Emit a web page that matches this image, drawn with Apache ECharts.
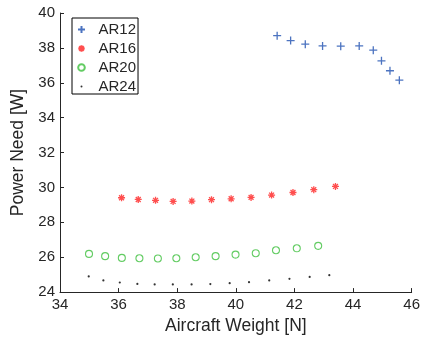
<!DOCTYPE html>
<html>
<head>
<meta charset="utf-8">
<script src="https://cdn.jsdelivr.net/npm/echarts@6/dist/echarts.min.js"></script>
<style>
  html, body { margin: 0; padding: 0; background: #fff; }
  #chart { width: 423px; height: 340px; }
</style>
</head>
<body>
<div id="chart"></div>
<script>
// Aircraft weight [N] vs. power need [W] for four aspect ratios
const ar12Weight = [41.41, 41.87, 42.37, 42.96, 43.58, 44.21, 44.69, 44.97, 45.26, 45.58];
const ar12Power  = [38.70, 38.42, 38.21, 38.11, 38.10, 38.11, 37.87, 37.26, 36.69, 36.15];

const ar16Weight = [36.10, 36.67, 37.26, 37.86, 38.50, 39.17, 39.84, 40.52, 41.22, 41.95, 42.66, 43.40];
const ar16Power  = [29.41, 29.31, 29.26, 29.20, 29.22, 29.30, 29.35, 29.43, 29.56, 29.71, 29.87, 30.06];

const ar20Weight = [34.99, 35.54, 36.11, 36.71, 37.34, 37.97, 38.63, 39.31, 39.99, 40.68, 41.37, 42.08, 42.81];
const ar20Power  = [26.19, 26.06, 25.96, 25.94, 25.93, 25.94, 26.00, 26.06, 26.15, 26.23, 26.40, 26.51, 26.65];

const ar24Weight = [34.98, 35.48, 36.04, 36.64, 37.23, 37.85, 38.49, 39.13, 39.79, 40.45, 41.14, 41.83, 42.52, 43.19];
const ar24Power  = [24.90, 24.67, 24.55, 24.47, 24.44, 24.44, 24.44, 24.46, 24.51, 24.57, 24.67, 24.76, 24.87, 24.97];

const seriesNames = ['AR12', 'AR16', 'AR20', 'AR24'];
const xTicks = [34, 36, 38, 40, 42, 44, 46];
const yTicks = [24, 26, 28, 30, 32, 34, 36, 38, 40];

const pairs = (xs, ys) => xs.map((x, i) => [x, ys[i]]);

// marker shapes (stroked paths)
const PLUS = 'path://M0,-1L0,1M-1,0L1,0';
const STAR = 'path://M0,-1L0,1M-1,0L1,0M-0.7,-0.7L0.7,0.7M-0.7,0.7L0.7,-0.7';
// legend icons: shapes drawn inside a fixed [-4,4] box so they keep a small size
const BOX = 'M-4,-4L-4,-4M4,4L4,4';
const PLUS_ICON = 'path://' + BOX + 'M0,-3.5L0,3.5M-3.5,0L3.5,0';
const STAR_ICON = 'path://' + BOX + 'M0,-3.2L0,3.2M-3.2,0L3.2,0M-2.3,-2.3L2.3,2.3M-2.3,2.3L2.3,-2.3';
const RING_ICON = 'path://' + BOX + 'M-3.3,0A3.3,3.3 0 1,0 3.3,0A3.3,3.3 0 1,0 -3.3,0Z';
const DOT_ICON  = 'path://' + BOX + 'M-1,0A1,1 0 1,0 1,0A1,1 0 1,0 -1,0Z';

const textColor = '#262626';
const fontFamily = '"Liberation Sans", Arial, sans-serif';

const chart = echarts.init(document.getElementById('chart'), null, { renderer: 'canvas' });

const axisCommon = {
  axisLine: { show: true, onZero: false, lineStyle: { color: '#262626', width: 1 } },
  axisTick: { show: true, inside: true, length: 4, lineStyle: { color: '#262626' } },
  splitLine: { show: false },
  axisLabel: { color: textColor, fontSize: 15, fontFamily: fontFamily, margin: 5 },
  nameTextStyle: { color: textColor, fontSize: 17.5, fontFamily: fontFamily },
  nameLocation: 'middle'
};

chart.setOption({
  animation: false,
  backgroundColor: '#fff',
  grid: { left: 60, right: 7, top: 13, bottom: 47 },
  xAxis: Object.assign({}, axisCommon, {
    type: 'value',
    min: xTicks[0], max: xTicks[xTicks.length - 1], interval: 2,
    name: 'Aircraft Weight [N]',
    nameGap: 22
  }),
  yAxis: Object.assign({}, axisCommon, {
    type: 'value',
    min: yTicks[0], max: yTicks[yTicks.length - 1], interval: 2,
    name: 'Power Need [W]',
    nameGap: 32
  }),
  legend: {
    orient: 'vertical',
    left: 72, top: 18,
    padding: [4, 2, 0, 3],
    itemGap: 4,
    itemWidth: 8, itemHeight: 8,
    borderColor: '#000', borderWidth: 1,
    backgroundColor: '#fff',
    textStyle: { color: textColor, fontSize: 15, fontFamily: fontFamily, lineHeight: 14, padding: [0, 0, 0, 8] },
    data: [
      { name: seriesNames[0], icon: PLUS_ICON },
      { name: seriesNames[1], icon: STAR_ICON },
      { name: seriesNames[2], icon: RING_ICON },
      { name: seriesNames[3], icon: DOT_ICON }
    ]
  },
  series: [
    {
      name: seriesNames[0], type: 'scatter', data: pairs(ar12Weight, ar12Power),
      symbol: PLUS, symbolSize: 8,
      itemStyle: { color: 'none', borderColor: '#1f50b0', borderWidth: 1.3 }
    },
    {
      name: seriesNames[1], type: 'scatter', data: pairs(ar16Weight, ar16Power),
      symbol: STAR, symbolSize: 7,
      itemStyle: { color: 'none', borderColor: '#ff2222', borderWidth: 1.3 }
    },
    {
      name: seriesNames[2], type: 'scatter', data: pairs(ar20Weight, ar20Power),
      symbol: 'circle', symbolSize: 7,
      itemStyle: { color: 'none', borderColor: '#3cbf3c', borderWidth: 1.1 }
    },
    {
      name: seriesNames[3], type: 'scatter', data: pairs(ar24Weight, ar24Power),
      symbol: 'circle', symbolSize: 2.2,
      itemStyle: { color: '#000' }
    }
  ]
});
</script>
</body>
</html>
